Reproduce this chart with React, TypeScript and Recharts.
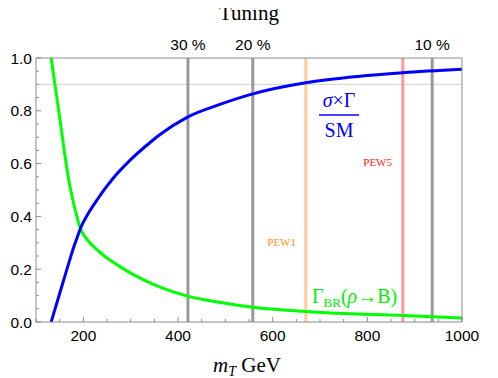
import React from 'react';
import { LineChart, Line, XAxis, YAxis, ReferenceLine } from 'recharts';

// top-quark partner mass (GeV)
const mT = [132, 140, 150, 160, 170, 180, 187, 193, 200, 210, 230, 245, 260, 300, 341, 362, 420, 490, 558, 670, 780, 875, 1000];
// sigma x Gamma relative to SM
const sigmaGamma = [0, 0.048, 0.108, 0.168, 0.228, 0.285, 0.32, 0.35, 0.378, 0.41, 0.465, 0.503, 0.538, 0.615, 0.68, 0.71, 0.776, 0.825, 0.864, 0.906, 0.93, 0.944, 0.957];
// branching ratio rho -> B
const gammaBR = [1.0, 0.9, 0.775, 0.645, 0.53, 0.445, 0.395, 0.358, 0.332, 0.308, 0.272, 0.249, 0.23, 0.185, 0.148, 0.132, 0.098, 0.074, 0.056, 0.04, 0.03, 0.025, 0.015];

const tuningM = [421, 558, 937];
const tuningLabels = ['30 %', '20 %', '10 %'];
const pewM = [670, 875];
const pewLabels = ['PEW1', 'PEW5'];

const xTicks = [100, 150, 200, 250, 300, 350, 400, 450, 500, 550, 600, 650, 700, 750, 800, 850, 900, 950, 1000];
const xMajor = [200, 400, 600, 800, 1000];
const yTicks = [0, 0.05, 0.1, 0.15, 0.2, 0.25, 0.3, 0.35, 0.4, 0.45, 0.5, 0.55, 0.6, 0.65, 0.7, 0.75, 0.8, 0.85, 0.9, 0.95, 1.0];
const yMajor = [0, 0.2, 0.4, 0.6, 0.8, 1.0];

const data = mT.map((m, i) => ({ m, sg: sigmaGamma[i], br: gammaBR[i] }));

const W = 498;
const H = 378;
const PL = 36;
const PR = 462;
const PT = 58;
const PB = 322;
const FRAME = '#8c8c8c';
const SANS = '"Liberation Sans", Arial, sans-serif';
const SERIF = '"Liberation Serif", "Times New Roman", serif';

const isMajor = (arr: number[], v: number) => arr.some((a) => Math.abs(a - v) < 1e-6);

function BottomTick({ x, payload }: any) {
  const major = isMajor(xMajor, payload.value);
  return (
    <g>
      <line x1={x} x2={x} y1={PB} y2={PB - (major ? 5 : 3)} stroke={FRAME} />
      {major && (
        <text x={x} y={PB + 19} textAnchor="middle" fontSize={15.5} fontFamily={SANS} fill="#000">
          {payload.value}
        </text>
      )}
    </g>
  );
}

function LeftTick({ y, payload }: any) {
  const major = isMajor(yMajor, payload.value);
  return (
    <g>
      <line x1={PL} x2={PL + (major ? 5 : 3)} y1={y} y2={y} stroke={FRAME} />
      {major && (
        <text x={PL - 4} y={y} dy="0.36em" textAnchor="end" fontSize={15.5} fontFamily={SANS} fill="#000">
          {payload.value.toFixed(1)}
        </text>
      )}
    </g>
  );
}

function RightTick({ y, payload }: any) {
  const major = isMajor(yMajor, payload.value);
  return (
    <g>
      <line x1={PR} x2={PR - (major ? 5 : 3)} y1={y} y2={y} stroke={FRAME} />
      {major && (
        <text x={PR + 4} y={y} dy="0.36em" textAnchor="start" fontSize={15.5} fontFamily={SANS} fill="#000">
          {payload.value.toFixed(1)}
        </text>
      )}
    </g>
  );
}

function TopTick({ x, payload }: any) {
  const i = tuningM.indexOf(payload.value);
  return (
    <text x={x} y={PT - 8} textAnchor="middle" fontSize={15.5} fontFamily={SANS} fill="#000">
      {tuningLabels[i]}
    </text>
  );
}

export default function App() {
  return (
    <div style={{ position: 'relative', width: W, height: H, margin: '-8px 0 0 -8px' }}>
      <LineChart width={W} height={H} data={data} margin={{ top: 36, right: 0, bottom: 0, left: 0 }}>
        <XAxis
          dataKey="m"
          type="number"
          domain={[100, 1000]}
          ticks={xTicks}
          interval={0}
          height={56}
          stroke={FRAME}
          tickLine={false}
          tick={<BottomTick />}
        />
        <XAxis
          xAxisId="top"
          orientation="top"
          dataKey="m"
          type="number"
          domain={[100, 1000]}
          ticks={tuningM}
          interval={0}
          height={22}
          stroke={FRAME}
          tickLine={false}
          tick={<TopTick />}
        />
        <YAxis
          type="number"
          domain={[0, 1]}
          ticks={yTicks}
          interval={0}
          width={36}
          stroke={FRAME}
          tickLine={false}
          tick={<LeftTick />}
        />
        <YAxis
          yAxisId="right"
          orientation="right"
          type="number"
          domain={[0, 1]}
          ticks={yTicks}
          interval={0}
          width={36}
          stroke={FRAME}
          tickLine={false}
          tick={<RightTick />}
        />
        <ReferenceLine y={0.9} stroke="#d0d0d0" strokeWidth={1} />
        {tuningM.map((m) => (
          <ReferenceLine key={m} x={m} stroke="#999999" strokeWidth={3} />
        ))}
        <ReferenceLine x={pewM[0]} stroke="#ffcc99" strokeWidth={3} />
        <ReferenceLine x={pewM[1]} stroke="#ff9999" strokeWidth={3} />
        <Line
          dataKey="br"
          type="monotone"
          stroke="#00ff00"
          strokeWidth={3}
          dot={false}
          isAnimationActive={false}
        />
        <Line
          dataKey="sg"
          type="monotone"
          stroke="#0000ff"
          strokeWidth={3}
          dot={false}
          isAnimationActive={false}
        />
      </LineChart>
      <svg
        width={W}
        height={H}
        style={{ position: 'absolute', left: 0, top: 0, pointerEvents: 'none' }}
      >
        <text x={249} y={20} textAnchor="middle" fontSize={21} fontFamily={SERIF}>
          Tuning
        </text>
        <text x={247} y={372} textAnchor="middle" fontSize={21} fontFamily={SERIF}>
          <tspan fontStyle="italic">m</tspan>
          <tspan fontStyle="italic" fontSize={14} dy={4}>T</tspan>
          <tspan dy={-4}> GeV</tspan>
        </text>
        <text x={339} y={106.5} textAnchor="middle" fontSize={20} fontFamily={SERIF} fill="#0000ff">
          <tspan fontStyle="italic">σ</tspan>×Γ
        </text>
        <line x1={319} x2={359} y1={115} y2={115} stroke="#0000ff" strokeWidth={1.5} />
        <text x={339} y={137} textAnchor="middle" fontSize={20} fontFamily={SERIF} fill="#0000ff">
          SM
        </text>
        <text x={296} y={246} textAnchor="end" fontSize={11} fontFamily={SERIF} fill="#ff8c1a">
          {pewLabels[0]}
        </text>
        <text x={392} y={166} textAnchor="end" fontSize={11} fontFamily={SERIF} fill="#ff2020">
          {pewLabels[1]}
        </text>
        <text x={312} y={303} fontSize={20} fontFamily={SERIF} fill="#00ee00">
          Γ<tspan fontSize={13} dy={4}>BR</tspan>
          <tspan dy={-4}>(</tspan>
          <tspan fontStyle="italic">ρ</tspan>→B)
        </text>
      </svg>
    </div>
  );
}
